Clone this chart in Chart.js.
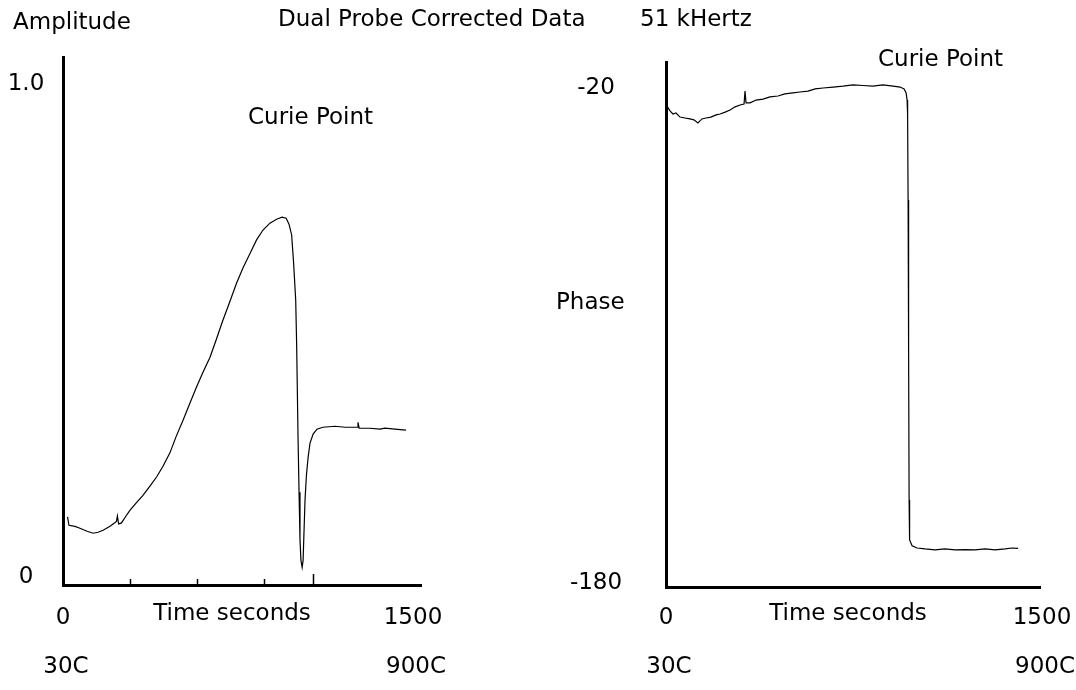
<!DOCTYPE html>
<html>
<head>
<meta charset="utf-8">
<script src="https://cdn.jsdelivr.net/npm/chart.js@4"></script>
<style>
  html, body { margin: 0; padding: 0; background: #fff; }
  #wrap { position: relative; width: 1076px; height: 690px; }
  #wrap canvas { position: absolute; left: 0; top: 0; }
</style>
</head>
<body>
<div id="wrap">
  <canvas id="ampChart" width="1076" height="690"></canvas>
  <canvas id="phaseChart" width="1076" height="690"></canvas>
</div>
<script>
// amplitude trace (left panel), time in seconds
const ampTimes = [19, 25, 50, 71, 101, 126, 147, 168, 197, 224, 228, 233, 245, 264, 281, 306, 335, 365, 392, 419,
  448, 473, 503, 532, 559, 587, 616, 643, 670, 700, 727, 754, 784, 811, 838, 867, 895, 918, 935, 947,
  958, 966, 975, 979, 985, 989, 993, 997, 1002, 1006, 1010, 1014, 1020, 1027, 1035, 1048, 1064, 1089, 1140, 1182,
  1232, 1236, 1241, 1286, 1328, 1349, 1391, 1437];
const ampValues = [0.122, 0.105, 0.103, 0.099, 0.093, 0.089, 0.091, 0.095, 0.103, 0.113, 0.124, 0.108, 0.110, 0.124, 0.136, 0.150, 0.166, 0.185, 0.203, 0.225,
  0.252, 0.284, 0.318, 0.353, 0.385, 0.416, 0.446, 0.483, 0.521, 0.560, 0.596, 0.627, 0.657, 0.684, 0.704, 0.718, 0.726, 0.730, 0.728, 0.716,
  0.694, 0.639, 0.562, 0.471, 0.278, 0.172, 0.075, 0.034, 0.020, 0.034, 0.095, 0.156, 0.207, 0.243, 0.272, 0.290, 0.300, 0.304, 0.306, 0.304,
  0.304, 0.314, 0.302, 0.302, 0.300, 0.302, 0.300, 0.298];

// phase trace (right panel)
const phaseTimes = [6, 16, 28, 40, 56, 76, 96, 112, 128, 144, 160, 180, 201, 217, 237, 257, 277, 297, 313, 317,
  321, 337, 361, 389, 417, 449, 477, 509, 537, 570, 598, 630, 670, 710, 750, 790, 830, 870, 911, 939,
  955, 963, 967, 969, 971, 973, 975, 977, 987, 1007, 1039, 1079, 1119, 1159, 1199, 1239, 1280, 1320, 1360, 1388, 1412];
const phaseValues = [-26.1, -27.4, -28.4, -28.1, -29.4, -29.7, -30.0, -30.3, -31.3, -30.0, -29.7, -29.4, -28.7, -28.4, -27.8, -27.1, -26.1, -25.5, -25.2, -21.0,
  -24.8, -24.8, -23.9, -23.6, -22.9, -22.6, -21.9, -21.6, -21.3, -21.0, -20.3, -20.0, -19.7, -19.4, -19.0, -19.2, -19.4, -19.0, -19.4, -19.7,
  -20.3, -21.6, -23.9, -28.7, -56.2, -104.7, -153.2, -166.1, -168.0, -168.7, -169.0, -169.3, -169.0, -169.3, -169.2, -169.3, -169.0, -169.3, -169.0, -168.7, -168.8];

const timeTicks = [0, 1500];
const tempLabels = ["30C", "900C"];
const ampTicks = [0, 1.0];
const phaseTicks = [-20, -180];
const minorTickTimes = [281, 561, 842];
const curieTime = 1047;

const FONT = '23px "DejaVu Sans", sans-serif';

function toPoints(xs, ys) {
  return xs.map((x, i) => ({ x: x, y: ys[i] }));
}

function axisScales(yMin, yMax) {
  const common = {
    type: 'linear',
    grid: { display: false, drawTicks: false },
    ticks: { display: false },
    border: { display: true, color: '#000', width: 3 }
  };
  return {
    x: Object.assign({}, common, { min: 0, max: 1500 }),
    y: Object.assign({}, common, { min: yMin, max: yMax })
  };
}

function text(ctx, str, x, y, align) {
  ctx.textAlign = align || 'center';
  ctx.fillText(str, x, y);
}

// draws the labels of a panel from its own scales
function panelLabels(id, cfg) {
  return {
    id: id,
    afterDraw(chart) {
      const ctx = chart.ctx;
      const xs = chart.scales.x, ys = chart.scales.y;
      ctx.save();
      ctx.fillStyle = '#000';
      ctx.font = FONT;
      ctx.textBaseline = 'middle';
      cfg.yTicks.forEach(v => text(ctx, v === 1 ? '1.0' : String(v), cfg.yLabelX, ys.getPixelForValue(v)));
      timeTicks.forEach((t, i) => {
        const dx = i === 0 ? 0 : cfg.endDx;
        text(ctx, String(t), xs.getPixelForValue(t) + dx, 618);
        text(ctx, tempLabels[i], xs.getPixelForValue(t) + dx + 3, 667);
      });
      text(ctx, 'Time seconds', cfg.timeX, 614);
      cfg.extra.forEach(e => text(ctx, e[0], e[1], e[2], 'left'));
      if (cfg.ticks) {
        ctx.strokeStyle = '#000';
        ctx.lineWidth = 1.5;
        const yb = chart.chartArea.bottom;
        minorTickTimes.concat([curieTime]).forEach(t => {
          const px = Math.round(xs.getPixelForValue(t)) + 0.5;
          ctx.beginPath();
          ctx.moveTo(px, yb);
          ctx.lineTo(px, yb - (t === curieTime ? 11 : 6));
          ctx.stroke();
        });
      }
      ctx.restore();
    }
  };
}

const lineStyle = {
  borderColor: '#000',
  borderWidth: 1.2,
  pointRadius: 0,
  tension: 0,
  fill: false
};

new Chart(document.getElementById('ampChart'), {
  type: 'line',
  data: { datasets: [Object.assign({ label: 'Amplitude', data: toPoints(ampTimes, ampValues) }, lineStyle)] },
  options: {
    responsive: false,
    animation: false,
    layout: { padding: { left: 63, right: 655, top: 57, bottom: 105 } },
    plugins: { legend: { display: false }, tooltip: { enabled: false } },
    scales: axisScales(-0.016, 1.055)
  },
  plugins: [panelLabels('ampLabels', {
    yTicks: ampTicks, yLabelX: 26, timeX: 232, ticks: true, endDx: -8,
    extra: [['Amplitude', 13, 23], ['Dual Probe Corrected Data', 278, 20], ['51 kHertz', 640, 20], ['Curie Point', 248, 118]]
  })]
});

new Chart(document.getElementById('phaseChart'), {
  type: 'line',
  data: { datasets: [Object.assign({ label: 'Phase', data: toPoints(phaseTimes, phaseValues) }, lineStyle)] },
  options: {
    responsive: false,
    animation: false,
    layout: { padding: { left: 666, right: 36, top: 62, bottom: 103 } },
    plugins: { legend: { display: false }, tooltip: { enabled: false } },
    scales: axisScales(-181.3, -11.6)
  },
  plugins: [panelLabels('phaseLabels', {
    yTicks: phaseTicks, yLabelX: 596, timeX: 848, ticks: false, endDx: 2,
    extra: [['Phase', 556, 303], ['Curie Point', 878, 60]]
  })]
});
</script>
</body>
</html>
